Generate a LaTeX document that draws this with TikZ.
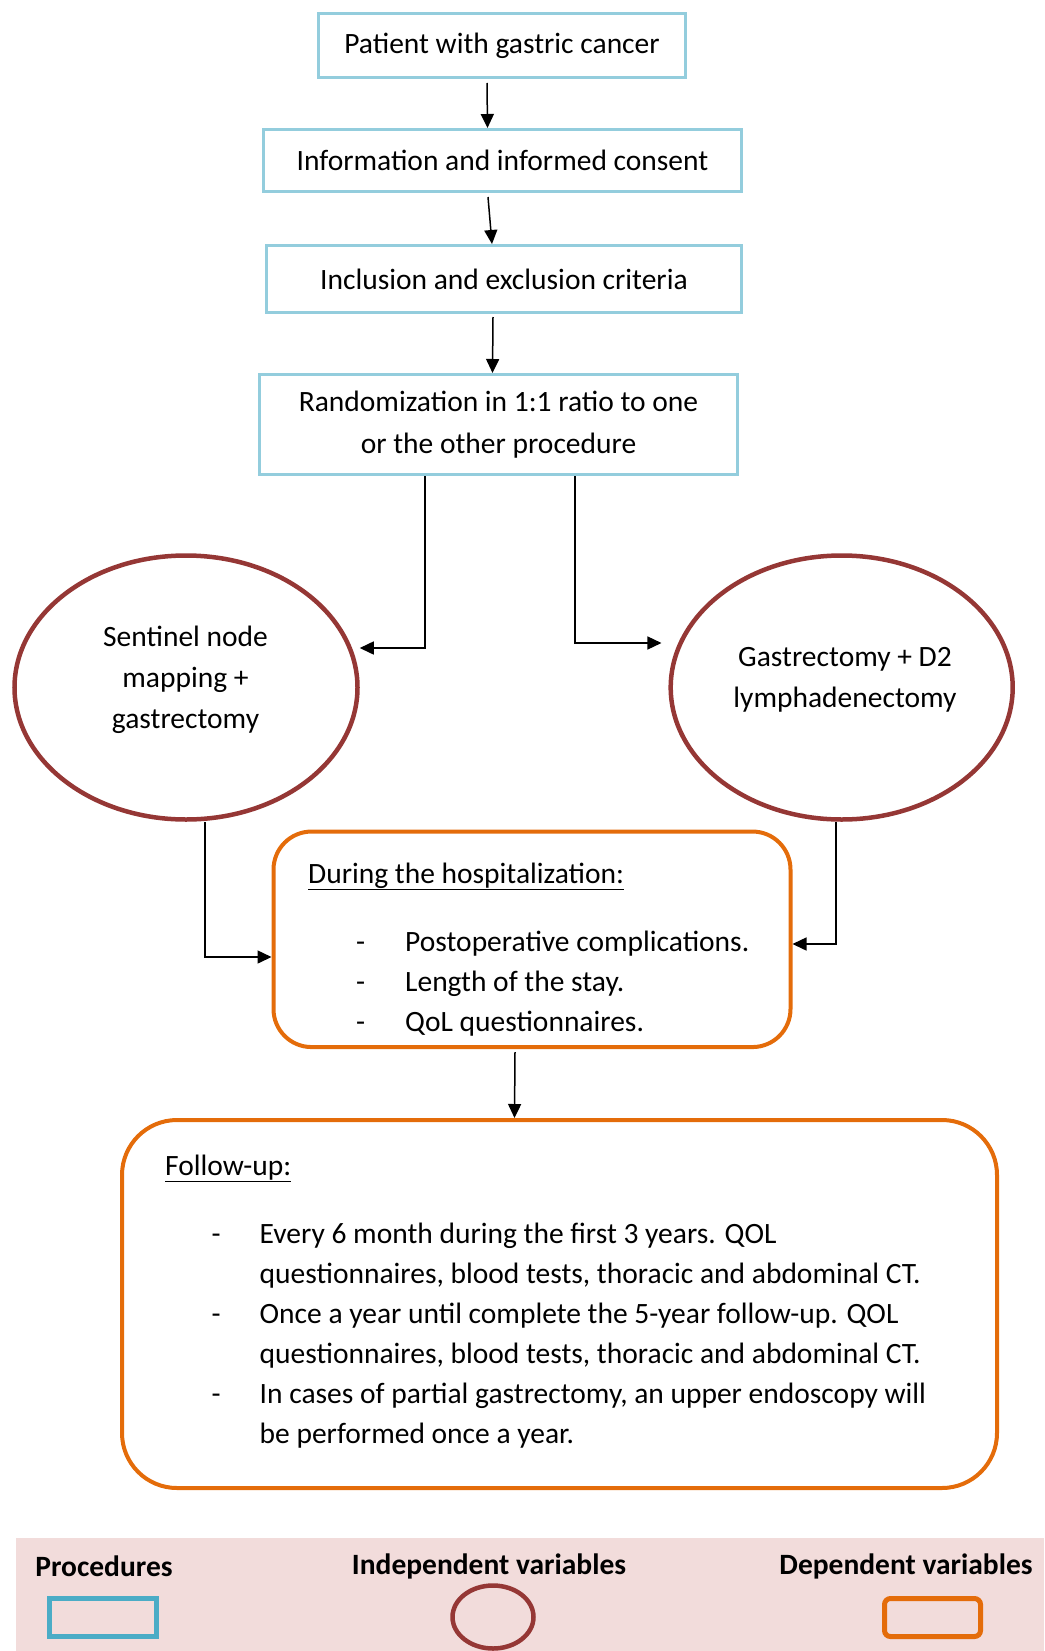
\documentclass[tikz,border=0pt]{standalone}
\usepackage{fontspec}
\setmainfont{Carlito}
\usetikzlibrary{shapes.geometric,arrows.meta}
\definecolor{procblue}{HTML}{93CDDD}
\definecolor{legblue}{HTML}{4BACC6}
\definecolor{indred}{HTML}{953735}
\definecolor{deporange}{HTML}{E46C0A}
\definecolor{legpink}{HTML}{F2DCDB}
\begin{document}
\begin{tikzpicture}[x=1pt,y=-1pt,
  every node/.style={font=\fontsize{29.5}{41}\selectfont},
  procbox/.style={draw=procblue,line width=3pt,inner sep=0pt,align=center},
  indell/.style={ellipse,draw=indred,line width=4.5pt,inner sep=0pt},
  depbox/.style={draw=deporange,line width=4pt,rounded corners=38pt,inner sep=0pt},
  arr/.style={line width=1.5pt,-{Triangle[length=14pt,width=13pt]}},
  plain/.style={inner sep=0pt}
]
\useasboundingbox (0,0) rectangle (1044,1651);

% procedures
\node[procbox,minimum width=367pt,minimum height=64pt] (b1) at (502,45.5) {Patient with gastric cancer};
\node[procbox,minimum width=478pt,minimum height=62pt] (b2) at (502.5,160.5) {Information and informed consent};
\node[procbox,minimum width=475pt,minimum height=67pt] (b3) at (504,279) {Inclusion and exclusion criteria};
\node[procbox,minimum width=478pt,minimum height=100pt,font=\fontsize{29.5}{41.7}\selectfont] (b4) at (498.5,424.5) {Randomization in 1:1 ratio to one\\or the other procedure};

% independent variables
\node[indell,minimum width=343pt,minimum height=264pt] (sen) at (186,687.5) {};
\node[plain,align=center] (sent) at (185.5,680) {Sentinel node\\mapping +\\gastrectomy};
\node[indell,minimum width=342pt,minimum height=264pt] (gas) at (841.7,687.5) {};
\node[plain,align=center] (gast) at (845,680) {Gastrectomy + D2\\lymphadenectomy};

% dependent variables
\node[depbox,minimum width=517pt,minimum height=215.5pt] (hosp) at (532,939.3) {};
\node[depbox,rounded corners=55pt,minimum width=875pt,minimum height=368pt] (fol) at (559.5,1304) {};

\node[plain,anchor=base west] (hosph) at (308,883) {\underline{During the hospitalization:}};
\node[plain,anchor=base west] (hospl) at (356,951.6) {\fontsize{29.5}{39.7}\selectfont\begin{tabular}[t]{@{}p{49pt}@{}l@{}}-&Postoperative complications.\\-&Length of the stay.\\-&QoL questionnaires.\end{tabular}};

\node[plain,anchor=base west] (folh) at (165,1175) {\underline{Follow-up:}};
\node[plain,anchor=base west] (foll) at (211.5,1243.4) {\fontsize{29.5}{40.1}\selectfont\begin{tabular}[t]{@{}p{48pt}@{}l@{}}-&Every 6 month during the first 3 years. QOL\\&questionnaires, blood tests, thoracic and abdominal CT.\\-&Once a year until complete the 5-year follow-up. QOL\\&questionnaires, blood tests, thoracic and abdominal CT.\\-&In cases of partial gastrectomy, an upper endoscopy will\\&be performed once a year.\end{tabular}};

% connectors
\draw[arr] ([xshift=-15pt,yshift=-4pt]b1.south) -- ([xshift=-15pt]b2.north);
\draw[arr] ([xshift=-14.5pt,yshift=-4pt]b2.south) -- ([xshift=-12pt]b3.north);
\draw[arr] ([xshift=-11pt,yshift=-3pt]b3.south) -- ([xshift=-6pt]b4.north);
\draw[arr] ([xshift=-73.5pt]b4.south) |- ([yshift=39.5pt]sen.east);
\draw[arr] ([xshift=76.5pt]b4.south) |- ([xshift=-7pt,yshift=44.5pt]gas.west);
\draw[arr] ([xshift=19pt]sen.south) |- ([yshift=-17.7pt]hosp.west);
\draw[arr] ([xshift=-5.5pt]gas.south) |- ([yshift=-4.7pt]hosp.east);
\draw[arr] ([xshift=-17pt,yshift=-3pt]hosp.south) -- ([xshift=-45pt]fol.north);

% legend
\node[fill=legpink,inner sep=0pt,minimum width=1028pt,minimum height=113pt,anchor=north west] (legbg) at (16,1538) {};
\node[plain,font=\bfseries\fontsize{29.5}{35}\selectfont] (lt1) at (104,1566) {Procedures};
\node[plain,font=\bfseries\fontsize{29.5}{35}\selectfont] (lt2) at (489,1566) {Independent variables};
\node[plain,font=\bfseries\fontsize{29.5}{35}\selectfont] (lt3) at (906,1566) {Dependent variables};
\node[draw=legblue,line width=5pt,inner sep=0pt,minimum width=107pt,minimum height=38pt] (lb1) at (103,1617.5) {};
\node[ellipse,draw=indred,line width=4.5pt,inner sep=0pt,minimum width=81pt,minimum height=63pt] (lb2) at (493,1617) {};
\node[draw=deporange,line width=5pt,rounded corners=6pt,inner sep=0pt,minimum width=96pt,minimum height=38pt] (lb3) at (932.5,1617.5) {};
\end{tikzpicture}
\end{document}
